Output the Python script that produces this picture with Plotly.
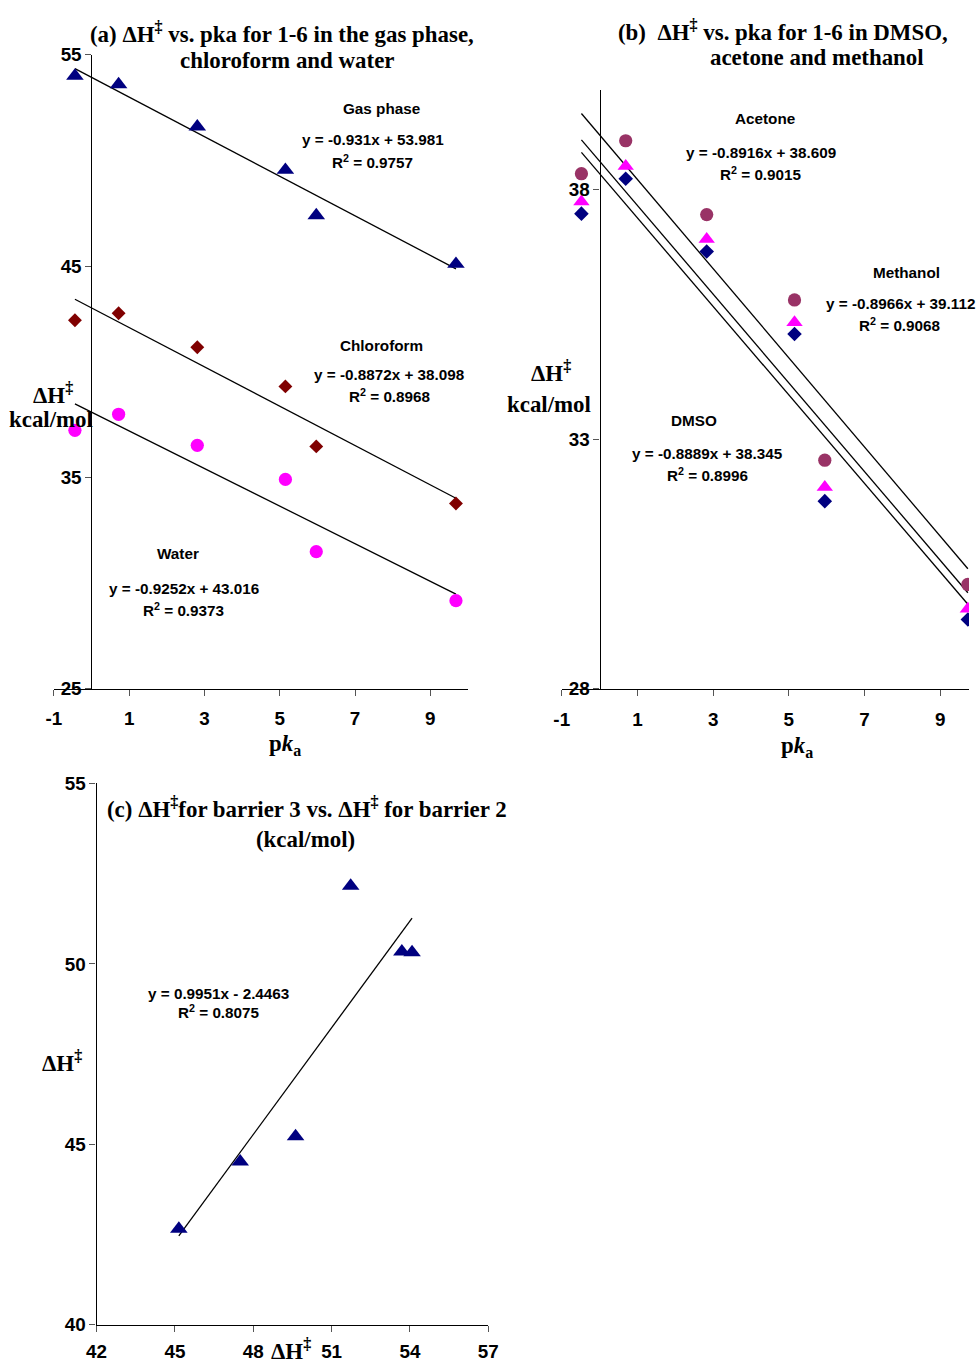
import numpy as np
import plotly.graph_objects as go

W, H = 979, 1368
# measured page -> picture transform of the photographing step (picture = A + S * page)
AX, SX = 10.17, 0.9792
AY, SY = 10.12, 0.9852
K = 1.0 / ((SX + SY) / 2.0)   # size compensation

# ---------------- data ----------------
pka = [-0.44, 0.72, 2.81, 5.15, 5.97, 9.68]

gas_phase = [54.0, 53.6, 51.6, 49.55, 47.4, 45.1]
chloroform = [42.44, 42.77, 41.16, 39.31, 36.47, 33.77]
water = [37.23, 37.99, 36.52, 34.91, 31.49, 29.17]

pka_b = [-0.48, 0.69, 2.83, 5.15, 5.95, 9.73]
methanol = [38.32, 38.98, 37.5, 35.79, 32.58, 30.09]
acetone = [37.76, 38.47, 37.01, 35.34, 32.04, 29.6]
dmso = [37.52, 38.22, 36.76, 35.11, 31.76, 29.39]

barrier2 = [45.15, 47.5, 49.62, 51.73, 53.69, 54.08]
barrier3 = [42.66, 44.52, 45.22, 52.16, 50.34, 50.32]

ticks_a_x = [-1, 1, 3, 5, 7, 9]
ticks_a_y = [25, 35, 45, 55]
ticks_b_y = [28, 33, 38]
ticks_c_x = [42, 45, 48, 51, 54, 57]
ticks_c_y = [40, 45, 50, 55]

eq_a = [("Gas phase", "y = -0.931x + 53.981", "R<sup>2</sup> = 0.9757"),
        ("Chloroform", "y = -0.8872x + 38.098", "R<sup>2</sup> = 0.8968"),
        ("Water", "y = -0.9252x + 43.016", "R<sup>2</sup> = 0.9373")]
eq_b = [("Acetone", "y = -0.8916x + 38.609", "R<sup>2</sup> = 0.9015"),
        ("Methanol", "y = -0.8966x + 39.112", "R<sup>2</sup> = 0.9068"),
        ("DMSO", "y = -0.8889x + 38.345", "R<sup>2</sup> = 0.8996")]
eq_c = ("y = 0.9951x - 2.4463", "R<sup>2</sup> = 0.8075")

NAVY, MAROON, MAGENTA, PLUM = "#000080", "#800000", "#FF00FF", "#993366"


def px(x):
    return min(1.0, max(0.0, ((x - AX) / SX) / W))


def py(y):
    return min(1.0, max(0.0, 1 - ((y - AY) / SY) / H))


fig = go.Figure()


def trend(xs, ys, xa, ya):
    m, b = np.polyfit(xs, ys, 1)
    x0, x1 = min(xs), max(xs)
    fig.add_trace(go.Scatter(x=[x0, x1], y=[m * x0 + b, m * x1 + b], mode="lines",
                             line=dict(color="black", width=1.3), xaxis=xa, yaxis=ya,
                             hoverinfo="skip", cliponaxis=True))


def pts(xs, ys, sym, size, color, xa, ya):
    fig.add_trace(go.Scatter(x=xs, y=ys, mode="markers",
                             marker=dict(symbol=sym, size=size * K, color=color, line=dict(width=0)),
                             xaxis=xa, yaxis=ya, cliponaxis=True))


# panel (a)
for ys in (gas_phase, chloroform, water):
    trend(pka, ys, "x", "y")
pts(pka, gas_phase, "triangle-up", 15, NAVY, "x", "y")
pts(pka, chloroform, "diamond", 10.5, MAROON, "x", "y")
pts(pka, water, "circle", 13, MAGENTA, "x", "y")

# panel (b)
for ys in (methanol, acetone, dmso):
    trend(pka_b, ys, "x2", "y2")
pts(pka_b, dmso, "diamond", 11, NAVY, "x2", "y2")
pts(pka_b, acetone, "triangle-up", 14, MAGENTA, "x2", "y2")
pts(pka_b, methanol, "circle", 13, PLUM, "x2", "y2")

# panel (c)
trend(barrier2, barrier3, "x3", "y3")
pts(barrier2, barrier3, "triangle-up", 15, NAVY, "x3", "y3")

TICKF = dict(family="Liberation Sans", size=18.5 * K, color="black", weight="bold")
axcommon = dict(showgrid=False, zeroline=False, showline=True, linecolor="black", linewidth=1.3,
                ticks="outside", ticklen=6, tickwidth=1, tickcolor="#555555", tickfont=TICKF,
                fixedrange=True)


def labels(vals):
    return [str(v) for v in vals]


# pixel geometry of the three plot areas (reference picture pixels)
a_x0, a_x1, a_y0, a_y1 = 54, 468, 55, 689.3
b_x0, b_y0, b_y1 = 561.7, 90, 689.3
c_x0, c_x1, c_y0, c_y1 = 96.7, 488.3, 784, 1325.7

fig.update_layout(
    width=W, height=H, margin=dict(l=0, r=0, t=0, b=0),
    paper_bgcolor="white", plot_bgcolor="white", showlegend=False, hovermode=False,
    xaxis=dict(axcommon, domain=[px(a_x0), px(a_x1)], range=[-1, 10], tickvals=ticks_a_x,
               ticktext=labels(ticks_a_x), anchor="y", ticklabelstandoff=6),
    yaxis=dict(axcommon, domain=[py(a_y1), py(a_y0)], range=[25, 55], tickvals=ticks_a_y,
               ticktext=labels(ticks_a_y), anchor="free",
               position=px(a_x0 + (a_x1 - a_x0) / 11.0)),
    xaxis2=dict(axcommon, domain=[px(b_x0), 1.0], range=[-1, 9.76],
                tickvals=ticks_a_x, ticktext=labels(ticks_a_x), anchor="y2", ticklabelstandoff=7),
    yaxis2=dict(axcommon, domain=[py(b_y1), py(b_y0)], range=[28, 40], tickvals=ticks_b_y,
                ticktext=labels(ticks_b_y), anchor="free",
                position=px(b_x0) + (1.0 - px(b_x0)) / 10.76),
    xaxis3=dict(axcommon, domain=[px(c_x0), px(c_x1)], range=[42, 57], tickvals=ticks_c_x,
                ticktext=labels(ticks_c_x), anchor="y3", ticklabelstandoff=3),
    yaxis3=dict(axcommon, domain=[py(c_y1), py(c_y0)], range=[40, 55], tickvals=ticks_c_y,
                ticktext=labels(ticks_c_y), anchor="x3"),
)

SERIF = dict(family="Liberation Serif", size=22.5 * K, color="black", weight="bold")
SANS = dict(family="Liberation Sans", size=15 * K, color="black", weight="bold")


def txt(x, y, s, font):
    fig.add_annotation(x=px(x), y=py(y), xref="paper", yref="paper", text=s, showarrow=False,
                       font=font, xanchor="center", yanchor="middle")


DH = "ΔH<sup>‡</sup>"
# titles
txt(282, 33, "(a) " + DH + " vs. pka for 1-6 in the gas phase,", SERIF)
txt(287, 61, "chloroform and water", SERIF)
txt(783, 31, "(b)  " + DH + " vs. pka for 1-6 in DMSO,", SERIF)
txt(817, 58, "acetone and methanol", SERIF)
txt(307, 808, "(c) " + DH + "for barrier 3 vs. " + DH + " for barrier 2", SERIF)
txt(306, 840, "(kcal/mol)", SERIF)

# axis titles
PKA = "p<i>k</i><sub>a</sub>"
txt(285, 746, PKA, SERIF)
txt(797, 748, PKA, SERIF)
txt(53, 394, DH, SERIF)
txt(51, 420, "kcal/mol", SERIF)
txt(551, 372, DH, SERIF)
txt(549, 405, "kcal/mol", SERIF)
txt(62, 1062, DH, SERIF)
txt(291, 1350, DH, SERIF)

# equations
pos_a = [(382, 373, 109, 140, 162), (382, 390, 346, 375, 396), (178, 184, 554, 589, 610)]
for (name, eq, r2), (xn, xe, yn, ye, yr) in zip(eq_a, pos_a):
    txt(xn, yn, name, SANS)
    txt(xe, ye, eq, SANS)
    txt(xe, yr, r2, SANS)
pos_b = [(765, 761, 119, 153, 174), (906, 900, 273, 304, 325), (694, 707, 421, 454, 475)]
for (name, eq, r2), (xn, xe, yn, ye, yr) in zip(eq_b, pos_b):
    txt(xn, yn, name, SANS)
    txt(xe, ye, eq, SANS)
    txt(xe, yr, r2, SANS)
txt(219, 994, eq_c[0], SANS)
txt(219, 1012, eq_c[1], SANS)

POST = """
(function(){
  var h = document.documentElement, b = document.body;
  h.style.margin = '0'; h.style.padding = '0'; h.style.overflow = 'hidden';
  b.style.margin = '0'; b.style.padding = '0'; b.style.overflow = 'hidden';
})();
"""

fig.write_html("out.html", config={"displayModeBar": False}, post_script=POST)
